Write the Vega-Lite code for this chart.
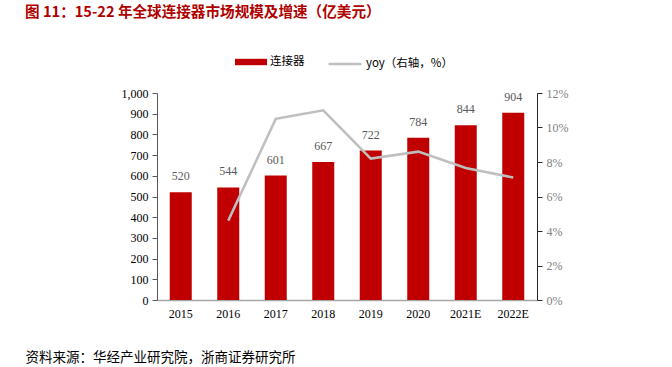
{
  "$schema": "https://vega.github.io/schema/vega-lite/v6.json",
  "width": 380,
  "height": 207,
  "autosize": {"type": "none"},
  "padding": {"left": 157, "top": 93, "right": 135, "bottom": 67},
  "background": "white",
  "title": {
    "text": "图 11：15-22 年全球连接器市场规模及增速（亿美元）",
    "anchor": "start",
    "frame": "group",
    "dx": -132,
    "dy": -22,
    "font": "Noto Sans CJK SC",
    "fontSize": 14.6,
    "fontWeight": "bold",
    "color": "#B00000"
  },
  "data": {
    "values": [
      {"year": "2015", "value": 520, "yoy": null},
      {"year": "2016", "value": 544, "yoy": 4.6},
      {"year": "2017", "value": 601, "yoy": 10.5},
      {"year": "2018", "value": 667, "yoy": 11.0},
      {"year": "2019", "value": 722, "yoy": 8.2},
      {"year": "2020", "value": 784, "yoy": 8.6},
      {"year": "2021E", "value": 844, "yoy": 7.65},
      {"year": "2022E", "value": 904, "yoy": 7.1}
    ]
  },
  "encoding": {
    "x": {
      "field": "year",
      "type": "ordinal",
      "sort": null,
      "scale": {"paddingInner": 0.53, "paddingOuter": 0.265},
      "axis": {
        "labelAngle": 0,
        "labelFont": "Liberation Serif",
        "labelFontSize": 12,
        "labelColor": "#000000",
        "labelPadding": 8,
        "ticks": false,
        "domainColor": "#A6A6A6",
        "domainWidth": 1.5,
        "title": "资料来源：华经产业研究院，浙商证券研究所",
        "titleFont": "Noto Sans CJK SC",
        "titleFontSize": 13.5,
        "titleFontWeight": "normal",
        "titleColor": "#000000",
        "titleAnchor": "start",
        "titleAlign": "left",
        "titleX": -132,
        "titleY": 50,
        "titleBaseline": "top"
      }
    }
  },
  "layer": [
    {
      "encoding": {
        "y": {
          "field": "value",
          "type": "quantitative",
          "scale": {"domain": [0, 1000]},
          "axis": {
            "title": null,
            "values": [0, 100, 200, 300, 400, 500, 600, 700, 800, 900, 1000],
            "format": ",.0f",
            "grid": false,
            "labelFont": "Liberation Serif",
            "labelFontSize": 12,
            "labelColor": "#000000",
            "tickSize": 5,
            "tickColor": "#595959",
            "domainColor": "#595959",
            "labelPadding": 4
          }
        }
      },
      "layer": [
        {
          "mark": {"type": "bar", "width": 22},
          "encoding": {
            "fill": {
              "datum": "连接器",
              "type": "nominal",
              "scale": {"range": ["#C00000"]},
              "legend": {
                "title": null,
                "orient": "none",
                "legendX": 78,
                "legendY": -47,
                "padding": 0,
                "symbolType": "M-1,-0.2L1,-0.2L1,0.2L-1,0.2Z",
                "symbolSize": 1024,
                "symbolStrokeWidth": 0,
                "labelFont": "Noto Sans CJK SC",
                "labelFontSize": 11.5,
                "labelColor": "#000000",
                "labelOffset": 3
              }
            }
          }
        },
        {
          "mark": {"type": "text", "baseline": "bottom", "dy": -9, "font": "Liberation Serif", "fontSize": 12, "color": "#595959"},
          "encoding": {
            "text": {"field": "value", "type": "quantitative"}
          }
        }
      ]
    },
    {
      "transform": [{"filter": "datum.yoy != null"}],
      "mark": {"type": "line", "strokeWidth": 2.5},
      "encoding": {
        "y": {
          "field": "yoy",
          "type": "quantitative",
          "scale": {"domain": [0, 12]},
          "axis": {
            "orient": "right",
            "title": null,
            "values": [0, 2, 4, 6, 8, 10, 12],
            "labelExpr": "datum.value + '%'",
            "grid": false,
            "labelFont": "Liberation Serif",
            "labelFontSize": 12,
            "labelColor": "#7F7F7F",
            "tickSize": 5,
            "tickColor": "#262626",
            "domainColor": "#262626",
            "labelPadding": 4
          }
        },
        "stroke": {
          "datum": "yoy（右轴，%）",
          "type": "nominal",
          "scale": {"range": ["#BFBFBF"]},
          "legend": {
            "title": null,
            "orient": "none",
            "legendX": 170,
            "legendY": -47,
            "padding": 0,
            "symbolType": "stroke",
            "symbolSize": 1089,
            "symbolStrokeWidth": 2.5,
            "labelFont": "Noto Sans CJK SC",
            "labelFontSize": 11.5,
            "labelColor": "#000000",
            "labelOffset": 3
          }
        }
      }
    }
  ],
  "resolve": {"scale": {"y": "independent", "fill": "independent", "stroke": "independent"}},
  "config": {"view": {"stroke": null}}
}
